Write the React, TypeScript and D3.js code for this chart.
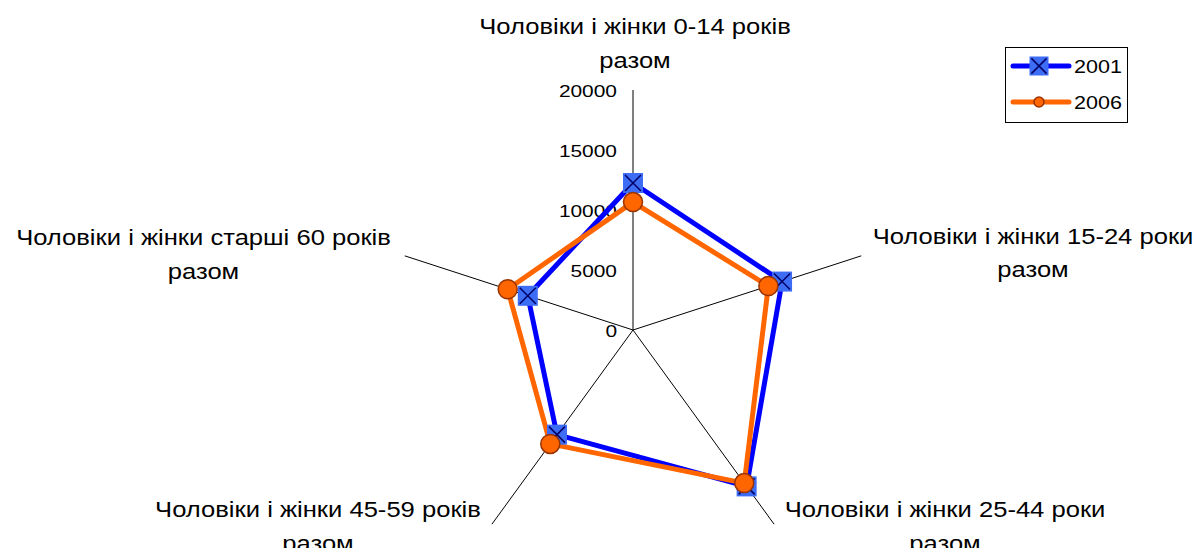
import React, { useEffect, useRef } from 'react';
import * as d3 from 'd3';

// categories (axes), clockwise from top
const categories: string[][] = [
  ['Чоловіки і жінки 0-14 років', 'разом'],
  ['Чоловіки і жінки 15-24 роки', 'разом'],
  ['Чоловіки і жінки 25-44 роки', 'разом'],
  ['Чоловіки і жінки 45-59 років', 'разом'],
  ['Чоловіки і жінки старші 60 років', 'разом'],
];
const seriesNames = ['2001', '2006'];
const values2001 = [12250, 13060, 16110, 10780, 9220];
const values2006 = [10660, 11860, 15770, 11730, 10980];
const tickValues = [0, 5000, 10000, 15000, 20000];

const App = () => {
  const svgRef = useRef<SVGSVGElement>(null);

  useEffect(() => {
    const width = 1201;
    const height = 556;
    const cx = 633;
    const cy = 330;
    const radius = 240;
    const font = 'Liberation Sans, Arial, sans-serif';
    // the reference text is drawn a bit wide, so stretch it horizontally
    const stretchSmall = 1.23;
    const stretchBig = 1.19;

    const svg = d3.select(svgRef.current);
    svg.selectAll('*').remove();
    svg.attr('width', width).attr('height', height);
    svg.append('rect').attr('width', width).attr('height', height).attr('fill', '#fff');

    const r = d3.scaleLinear().domain([0, 20000]).range([0, radius]);
    const angle = d3.scaleLinear().domain([0, categories.length]).range([0, 2 * Math.PI]);
    const pt = (i: number, v: number): [number, number] => [
      cx + r(v) * Math.sin(angle(i)),
      cy - r(v) * Math.cos(angle(i)),
    ];

    const g = svg.append('g');

    // axes
    categories.forEach((_, i) => {
      const [x, y] = pt(i, 20000);
      g.append('line')
        .attr('x1', cx).attr('y1', cy).attr('x2', x).attr('y2', y)
        .attr('stroke', '#000').attr('stroke-width', 1);
    });

    // tick labels
    g.selectAll('text.tick')
      .data(tickValues)
      .enter()
      .append('text')
      .attr('class', 'tick')
      .attr('transform', d => `translate(${cx - 16},${cy - r(d) + 7}) scale(${stretchSmall},1)`)
      .attr('text-anchor', 'end')
      .style('font-family', font)
      .style('font-size', '17px')
      .text(d => String(d));

    // category labels (centre x, first baseline)
    const labelPos: [number, number][] = [
      [635, 34], [1033, 243.5], [945, 517], [318, 517], [203.5, 245],
    ];
    categories.forEach((lines, i) => {
      lines.forEach((l, j) => {
        g.append('text')
          .attr('transform', `translate(${labelPos[i][0]},${labelPos[i][1] + j * 33.5}) scale(${stretchBig},1)`)
          .attr('text-anchor', 'middle')
          .style('font-family', font)
          .style('font-size', '21.5px')
          .text(l);
      });
    });

    const line = d3.line<number>()
      .x((d, i) => pt(i, d)[0])
      .y((d, i) => pt(i, d)[1])
      .curve(d3.curveLinearClosed);

    // 2001
    g.append('path')
      .datum(values2001)
      .attr('d', line)
      .attr('fill', 'none')
      .attr('stroke', '#0000ff')
      .attr('stroke-width', 5)
      .attr('stroke-linejoin', 'round');
    // 2006
    g.append('path')
      .datum(values2006)
      .attr('d', line)
      .attr('fill', 'none')
      .attr('stroke', '#ff6600')
      .attr('stroke-width', 5)
      .attr('stroke-linejoin', 'round');

    const squareMarker = (sel: d3.Selection<SVGGElement, unknown, null, undefined>, x: number, y: number, s: number) => {
      sel.append('rect')
        .attr('x', x - s / 2).attr('y', y - s / 2)
        .attr('width', s).attr('height', s)
        .attr('fill', '#3d6df5');
      const h = s * 0.4;
      sel.append('path')
        .attr('d', `M${x - h},${y - h}L${x + h},${y + h}M${x - h},${y + h}L${x + h},${y - h}`)
        .attr('stroke', '#000066')
        .attr('stroke-width', 1.5);
    };
    const circleMarker = (sel: d3.Selection<SVGGElement, unknown, null, undefined>, x: number, y: number, rr: number) => {
      sel.append('circle')
        .attr('cx', x).attr('cy', y).attr('r', rr)
        .attr('fill', '#ff6600')
        .attr('stroke', '#993300')
        .attr('stroke-width', 1.5);
    };

    const m2001 = g.append('g');
    values2001.forEach((v, i) => {
      const [x, y] = pt(i, v);
      squareMarker(m2001, x, y, 20);
    });
    const m2006 = g.append('g');
    values2006.forEach((v, i) => {
      const [x, y] = pt(i, v);
      circleMarker(m2006, x, y, 9.5);
    });

    // legend
    const lg = svg.append('g');
    lg.append('rect')
      .attr('x', 1005.5).attr('y', 47.5).attr('width', 122).attr('height', 75)
      .attr('fill', '#fff').attr('stroke', '#000').attr('stroke-width', 1);
    const rows = [66, 102];
    seriesNames.forEach((name, i) => {
      const y = rows[i];
      lg.append('line')
        .attr('x1', 1013).attr('x2', 1069).attr('y1', y).attr('y2', y)
        .attr('stroke', i === 0 ? '#0000ff' : '#ff6600')
        .attr('stroke-width', 5)
        .attr('stroke-linecap', 'round');
      if (i === 0) squareMarker(lg, 1039, y, 19);
      else circleMarker(lg, 1039, y, 5);
      lg.append('text')
        .attr('transform', `translate(1074,${y + 6.5}) scale(${stretchSmall},1)`)
        .style('font-family', font)
        .style('font-size', '17.5px')
        .text(name);
    });
  }, []);

  return (
    <div style={{ margin: -8 }}>
      <svg ref={svgRef} style={{ display: 'block' }}></svg>
    </div>
  );
};

export default App;
